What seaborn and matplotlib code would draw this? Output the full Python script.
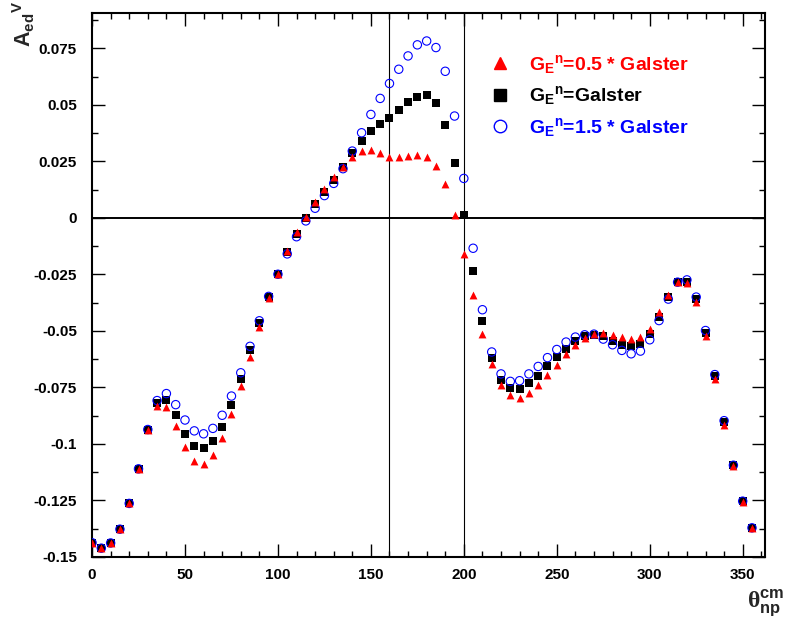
import numpy as np
import pandas as pd
import matplotlib
matplotlib.use('Agg')
import matplotlib.pyplot as plt
from matplotlib.lines import Line2D
from matplotlib.ticker import MultipleLocator, FuncFormatter
import seaborn as sns

# angle theta_np (cm), degrees
theta = list(range(0, 360, 5))

# A_ed^V for G_E^n = 0.5 * Galster
a_half = [-0.1437, -0.1461, -0.1438, -0.1377, -0.1263, -0.1110, -0.0936, -0.0833, -0.0835, -0.0922,
          -0.1015, -0.1076, -0.1087, -0.1050, -0.0975, -0.0867, -0.0743, -0.0617, -0.0484, -0.0352,
          -0.0249, -0.0146, -0.0063, 0.0006, 0.0072, 0.0127, 0.0180, 0.0227, 0.0270, 0.0296,
          0.0300, 0.0286, 0.0270, 0.0270, 0.0275, 0.0278, 0.0268, 0.0231, 0.0149, 0.0015,
          -0.0159, -0.0343, -0.0514, -0.0646, -0.0738, -0.0785, -0.0795, -0.0774, -0.0741, -0.0697,
          -0.0650, -0.0604, -0.0564, -0.0531, -0.0512, -0.0509, -0.0517, -0.0527, -0.0536, -0.0527,
          -0.0492, -0.0414, -0.0340, -0.0284, -0.0289, -0.0372, -0.0521, -0.0712, -0.0914, -0.1098,
          -0.1255, -0.1373]

# A_ed^V for G_E^n = Galster
a_galster = [-0.1437, -0.1461, -0.1438, -0.1377, -0.1263, -0.1110, -0.0936, -0.0819, -0.0805, -0.0873,
             -0.0955, -0.1008, -0.1019, -0.0989, -0.0923, -0.0828, -0.0713, -0.0583, -0.0465, -0.0349,
             -0.0249, -0.0152, -0.0072, -0.0002, 0.0060, 0.0113, 0.0168, 0.0227, 0.0288, 0.0340,
             0.0384, 0.0414, 0.0443, 0.0477, 0.0512, 0.0536, 0.0542, 0.0507, 0.0410, 0.0242,
             0.0015, -0.0234, -0.0458, -0.0620, -0.0716, -0.0754, -0.0755, -0.0732, -0.0698, -0.0657,
             -0.0615, -0.0579, -0.0546, -0.0524, -0.0517, -0.0524, -0.0546, -0.0561, -0.0568, -0.0558,
             -0.0514, -0.0436, -0.0348, -0.0284, -0.0283, -0.0359, -0.0510, -0.0701, -0.0904, -0.1095,
             -0.1253, -0.1371]

# A_ed^V for G_E^n = 1.5 * Galster
a_onehalf = [-0.1437, -0.1461, -0.1438, -0.1377, -0.1263, -0.1110, -0.0936, -0.0808, -0.0777, -0.0826,
             -0.0894, -0.0942, -0.0955, -0.0931, -0.0873, -0.0788, -0.0685, -0.0568, -0.0455, -0.0347,
             -0.0249, -0.0159, -0.0083, -0.0013, 0.0043, 0.0099, 0.0153, 0.0218, 0.0296, 0.0377,
             0.0458, 0.0529, 0.0595, 0.0658, 0.0717, 0.0766, 0.0783, 0.0754, 0.0649, 0.0451,
             0.0175, -0.0134, -0.0406, -0.0593, -0.0690, -0.0723, -0.0720, -0.0690, -0.0657, -0.0618,
             -0.0582, -0.0549, -0.0527, -0.0517, -0.0514, -0.0536, -0.0561, -0.0586, -0.0601, -0.0589,
             -0.0539, -0.0454, -0.0359, -0.0284, -0.0274, -0.0350, -0.0498, -0.0693, -0.0897, -0.1094,
             -0.1253, -0.1371]

labels = [r'$G_{E}{}^{n}$=0.5 * Galster', r'$G_{E}{}^{n}$=Galster', r'$G_{E}{}^{n}$=1.5 * Galster']
cut_lines = [160, 200]

sns.set_style('ticks')
plt.rcParams['font.family'] = ['Liberation Sans', 'DejaVu Sans']
plt.rcParams['font.weight'] = 'bold'
plt.rcParams['mathtext.fontset'] = 'custom'
plt.rcParams['mathtext.bf'] = 'Liberation Sans:bold'
plt.rcParams['mathtext.rm'] = 'Liberation Serif'
plt.rcParams['mathtext.it'] = 'Liberation Sans:bold'
plt.rcParams['mathtext.default'] = 'bf'

fig = plt.figure(figsize=(7.88, 6.21), dpi=100)
ax = fig.add_axes([0.1168, 0.1031, 0.854, 0.876])

df = pd.DataFrame({'theta': theta, 'half': a_half, 'galster': a_galster, 'onehalf': a_onehalf})

# reference lines
ax.axhline(0, color='black', lw=1.4, zorder=1)
for xv in cut_lines:
    ax.axvline(xv, color='black', lw=0.8, zorder=1)

sns.scatterplot(data=df, x='theta', y='galster', marker='s', color='black', s=30,
                linewidth=0, ax=ax, zorder=3)
sns.scatterplot(data=df, x='theta', y='onehalf', marker='o', color='blue', s=36,
                ax=ax, zorder=4)
ax.collections[-1].set_facecolor('none')
ax.collections[-1].set_edgecolor('blue')
ax.collections[-1].set_linewidth(0.8)
sns.scatterplot(data=df, x='theta', y='half', marker='^', color='red', s=32,
                linewidth=0, ax=ax, zorder=5)

ax.set_xlim(0, 362)
ax.set_ylim(-0.15, 0.0907)
ax.xaxis.set_major_locator(MultipleLocator(50))
ax.xaxis.set_minor_locator(MultipleLocator(10))
ax.yaxis.set_major_locator(MultipleLocator(0.025))
ax.yaxis.set_minor_locator(MultipleLocator(0.0125))
ax.yaxis.set_major_formatter(FuncFormatter(lambda v, p: '0' if abs(v) < 1e-9 else '%g' % v))
ax.tick_params(which='both', direction='in', top=True, right=True, width=1, colors='black')
ax.tick_params(which='major', length=9.5, labelsize=11)
ax.tick_params(which='minor', length=4.5)
ax.tick_params(axis='y', pad=11)
ax.tick_params(axis='x', pad=8)
for sp in ax.spines.values():
    sp.set_linewidth(1.5)
    sp.set_color('black')
ax.set_xlabel('')
ax.set_ylabel('')

handles = [Line2D([], [], marker='^', color='red', linestyle='none', markersize=9),
           Line2D([], [], marker='s', color='black', linestyle='none', markersize=8),
           Line2D([], [], marker='o', markerfacecolor='none', markeredgecolor='blue',
                  markeredgewidth=1, linestyle='none', markersize=9)]
ax.legend(handles, labels, loc='upper left', bbox_to_anchor=(0.575, 0.945), frameon=False,
          fontsize=14, labelcolor=['red', 'black', 'blue'], borderpad=0,
          handlelength=1.2, handletextpad=0.85, labelspacing=0.45)

fig.text(0.03, 0.998, r'$A_{ed}{}^{V}$', rotation=90, ha='center', va='top', fontsize=15.5)
fig.text(0.996, 0.004, r'$\mathrm{\theta}_{np}^{cm}$', ha='right', va='bottom', fontsize=17)

fig.savefig('out.png', dpi=100)
